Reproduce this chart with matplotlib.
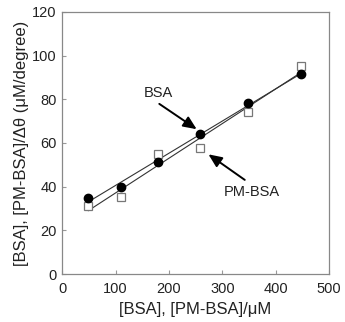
import numpy as np
import matplotlib
matplotlib.use("Agg")
import matplotlib.pyplot as plt

plt.rcParams['font.family'] = ['Liberation Sans', 'DejaVu Sans']

x_vals = [49, 110, 179, 259, 348, 448]
bsa = [35.0, 40.0, 51.4, 64.0, 78.2, 91.6]
pm_bsa = [31.0, 35.4, 55.0, 57.7, 74.1, 95.4]
xticks = [0, 100, 200, 300, 400, 500]
yticks = [0, 20, 40, 60, 80, 100, 120]

fig = plt.figure(figsize=(3.45, 3.22), dpi=100)
ax = fig.add_axes([0.18, 0.149, 0.774, 0.814])

x = np.array(x_vals, dtype=float)
xl = np.array([x.min(), x.max()])
for ys in (bsa, pm_bsa):
    k, b = np.polyfit(x, np.array(ys), 1)
    ax.plot(xl, k * xl + b, color='#333333', lw=0.8, zorder=2)

ax.plot(x, pm_bsa, ls='none', marker='s', ms=5.3, mfc='white', mec='#777777',
        mew=0.9, zorder=3)
ax.plot(x, bsa, ls='none', marker='o', ms=6.0, mfc='black', mec='black', zorder=4)

tc = '#222222'
aprops = dict(arrowstyle='-|>,head_length=0.8,head_width=0.35',
              color='black', lw=1.4, shrinkA=0, shrinkB=0)
ax.text(180.5, 82.8, 'BSA', ha='center', va='center', fontsize=10.5, color=tc)
ax.annotate('', xy=(252, 66.3), xytext=(182, 77.9), arrowprops=aprops)
ax.text(356, 37.7, 'PM-BSA', ha='center', va='center', fontsize=10.5, color=tc)
ax.annotate('', xy=(274, 54.8), xytext=(342, 43.1), arrowprops=aprops)

ax.set_xlim(0, 500)
ax.set_ylim(0, 120)
ax.set_xticks(xticks)
ax.set_yticks(yticks)
ax.tick_params(direction='in', length=3, color='#999999', labelsize=10.5,
               labelcolor=tc)
ax.tick_params(axis='x', pad=6)
ax.tick_params(axis='y', pad=4)
for s in ax.spines.values():
    s.set_color('#888888')
    s.set_linewidth(0.9)

ax.set_xlabel('[BSA], [PM-BSA]/μM', fontsize=12, color=tc, labelpad=4)
ax.set_ylabel('[BSA], [PM-BSA]/Δθ (μM/degree)', fontsize=12, color=tc, labelpad=2)

fig.savefig('out.png', dpi=100)
